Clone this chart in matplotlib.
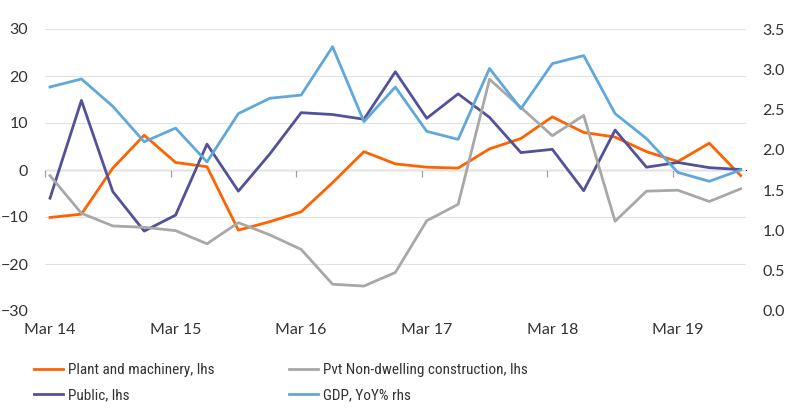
import matplotlib
matplotlib.use("Agg")
import matplotlib.pyplot as plt

# Quarterly data, Mar 14 - Sep 19
quarters = ["Mar 14", "Jun 14", "Sep 14", "Dec 14",
            "Mar 15", "Jun 15", "Sep 15", "Dec 15",
            "Mar 16", "Jun 16", "Sep 16", "Dec 16",
            "Mar 17", "Jun 17", "Sep 17", "Dec 17",
            "Mar 18", "Jun 18", "Sep 18", "Dec 18",
            "Mar 19", "Jun 19", "Sep 19"]
plant_machinery = [-10.1, -9.4, 0.4, 7.4, 1.6, 0.7, -12.8, -11.0, -8.9, -2.7,
                   3.9, 1.3, 0.6, 0.4, 4.5, 6.7, 11.3, 8.0, 7.0, 3.9,
                   1.8, 5.7, -1.2]
public = [-6.0, 14.8, -4.6, -13.0, -9.6, 5.5, -4.5, 3.4, 12.2, 11.8,
          10.8, 20.9, 11.0, 16.2, 11.2, 3.7, 4.4, -4.4, 8.5, 0.6,
          1.6, 0.5, 0.1]
pvt_non_dwelling = [-1.2, -9.2, -11.9, -12.2, -12.9, -15.7, -11.2, -13.8,
                    -16.9, -24.3, -24.7, -21.8, -10.8, -7.3, 19.3, 13.3,
                    7.3, 11.6, -10.9, -4.5, -4.3, -6.7, -4.0]
gdp_yoy = [2.78, 2.88, 2.54, 2.10, 2.27, 1.85, 2.45, 2.64, 2.68, 3.28,
           2.35, 2.78, 2.23, 2.13, 3.01, 2.51, 3.07, 3.17, 2.45, 2.14,
           1.72, 1.61, 1.75]
lhs_ticks = [-30, -20, -10, 0, 10, 20, 30]
rhs_ticks = [0.0, 0.5, 1.0, 1.5, 2.0, 2.5, 3.0, 3.5]

ORANGE = "#FF6200"
GREY = "#A8A8A8"
PURPLE = "#525199"
BLUE = "#60A8DC"
TEXT = "#333333"

plt.rcParams["font.family"] = ["Lato", "DejaVu Sans"]
plt.rcParams["font.size"] = 11.5

fig = plt.figure(figsize=(8, 4.12), dpi=100)
ax = fig.add_axes([45 / 800, 1 - 311 / 412, 701 / 800, 282 / 412])
ax2 = ax.twinx()

x = list(range(len(quarters)))
lw = 2.0
l1, = ax.plot(x, plant_machinery, color=ORANGE, lw=lw,
              label="Plant and machinery, lhs")
l2, = ax.plot(x, public, color=PURPLE, lw=lw, label="Public, lhs")
l3, = ax.plot(x, pvt_non_dwelling, color=GREY, lw=lw,
              label="Pvt Non-dwelling construction, lhs")
l4, = ax2.plot(x, gdp_yoy, color=BLUE, lw=lw, label="GDP, YoY% rhs")

ax.set_xlim(-0.16, len(quarters) - 1 + 0.17)
ax.set_ylim(-30, 30)
ax2.set_ylim(0, 3.5)
ax.set_yticks(lhs_ticks)
ax2.set_yticks(rhs_ticks, labels=[f"{v:.1f}" for v in rhs_ticks])

# labels every March, no visible ticks at the bottom
ax.set_xticks(x[::4], labels=quarters[::4])
ax.tick_params(axis="x", length=0, pad=9, colors=TEXT)
ax.tick_params(axis="y", length=0, pad=12, colors=TEXT)
ax2.tick_params(axis="y", length=0, pad=12, colors=TEXT)

ax.grid(axis="y", color="#E2E2E2", lw=0.8)
for a in (ax, ax2):
    for s in a.spines.values():
        s.set_visible(False)

# zero line with small tick marks between years (pointing down)
zero = ax.secondary_xaxis(0.5)
zero.spines["bottom"].set_color("#A0A0A0")
zero.spines["bottom"].set_linewidth(0.9)
zero.set_xticks([i - 0.16 for i in x[::4]], labels=[])
zero.tick_params(length=5, width=0.9, color="#A0A0A0", direction="in")

fig.legend(handles=[l1, l2, l3, l4], ncol=2, loc="upper left",
           bbox_to_anchor=(34 / 800, 1 - 363 / 412), frameon=False,
           handlelength=1.9, handletextpad=0.3, columnspacing=4.9,
           labelspacing=0.72, borderpad=0, borderaxespad=0,
           labelcolor=TEXT,
           prop={"family": ["Roboto Condensed", "DejaVu Sans"],
                 "stretch": "condensed", "size": 11})

fig.savefig("out.png", dpi=100)
